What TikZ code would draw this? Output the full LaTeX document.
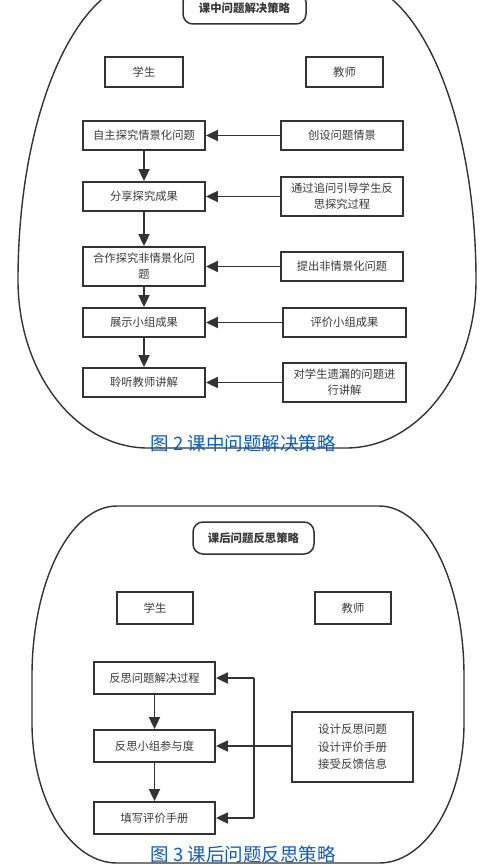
\documentclass[tikz,border=0pt]{standalone}
\usepackage{fontspec}
\setmainfont{Noto Sans CJK SC}
\usetikzlibrary{arrows.meta}
\definecolor{linec}{HTML}{333333}
\definecolor{textc}{HTML}{3A3A3A}
\definecolor{capc}{HTML}{0F5CB8}
\tikzset{
  box/.style={draw=linec, line width=1.8pt, text=textc, font=\fontsize{11.3}{16}\selectfont, align=center, inner sep=0pt},
  arr/.style={draw=linec, line width=1.8pt, -{Triangle[length=12pt,width=11pt]}},
  plainline/.style={draw=linec, line width=1.8pt},
  outer/.style={draw=linec, line width=1.4pt},
  figcap/.style={text=capc, font=\fontsize{18.5}{20}\selectfont, inner sep=0pt},
  ttl/.style={box, line width=1.5pt, rounded corners=10pt, font=\bfseries\fontsize{11.4}{14}\selectfont}
}
\begin{document}
\begin{tikzpicture}[x=1pt,y=-1pt]
\useasboundingbox (0,0) rectangle (499,866);
\fill[white] (0,0) rectangle (499,866);
\clip (0,0) rectangle (499,866);

% ===== Top diagram =====
\draw[outer] (148,-20) .. controls (76,-20) and (18,114) .. (18,280)
  .. controls (18,373) and (76,448) .. (148,448) -- (346,448)
  .. controls (418,448) and (476,373) .. (476,280)
  .. controls (476,114) and (418,-20) .. (346,-20) -- cycle;

\node[ttl, minimum width=123pt, minimum height=32pt] (t1) at (244.5,8) {课中问题解决策略};
\node[box, minimum width=78pt, minimum height=30pt] (s1) at (144,72) {学生};
\node[box, minimum width=77pt, minimum height=30pt] (j1) at (344.5,72) {教师};

\node[box, minimum width=122pt, minimum height=29pt] (a1) at (144,135.5) {自主探究情景化问题};
\node[box, minimum width=122pt, minimum height=29pt] (a2) at (144,196.5) {分享探究成果};
\node[box, minimum width=122pt, minimum height=39pt] (a3) at (144,266.5) {合作探究非情景化问\\题};
\node[box, minimum width=122pt, minimum height=29pt] (a4) at (144,322.5) {展示小组成果};
\node[box, minimum width=122pt, minimum height=29pt] (a5) at (144,382.5) {聆听教师讲解};

\node[box, minimum width=122pt, minimum height=29pt] (b1) at (342,135.5) {创设问题情景};
\node[box, minimum width=122pt, minimum height=39pt] (b2) at (342,196.5) {通过追问引导学生反\\思探究过程};
\node[box, minimum width=122pt, minimum height=29pt] (b3) at (342,266.5) {提出非情景化问题};
\node[box, minimum width=123pt, minimum height=29pt] (b4) at (344.5,322.5) {评价小组成果};
\node[box, minimum width=123pt, minimum height=39pt] (b5) at (344.5,382.5) {对学生遗漏的问题进\\行讲解};

\draw[arr] (a1.south) -- (a2.north);
\draw[arr] (a2.south) -- (a3.north);
\draw[arr] (a3.south) -- (a4.north);
\draw[arr] (a4.south) -- (a5.north);
\draw[arr] (b1.west) -- (a1.east);
\draw[arr] (b2.west) -- (a2.east);
\draw[arr] (b3.west) -- (a3.east);
\draw[arr] (b4.west) -- (a4.east);
\draw[arr] (b5.west) -- (a5.east);

\node[figcap] (c1) at (243,443) {图 2 课中问题解决策略};

% ===== Bottom diagram =====
\draw[outer] (117,506) .. controls (70,506) and (32,582) .. (32,676) -- (32,723)
  .. controls (32,800) and (70,863) .. (117,863) -- (379,863)
  .. controls (426,863) and (464,800) .. (464,723) -- (464,676)
  .. controls (464,582) and (426,506) .. (379,506) -- cycle;

\node[ttl, minimum width=121pt, minimum height=32pt] (t2) at (253.5,538) {课后问题反思策略};
\node[box, minimum width=76pt, minimum height=32pt] (s2) at (155,608) {学生};
\node[box, minimum width=76pt, minimum height=32pt] (j2) at (353,608) {教师};

\node[box, minimum width=121pt, minimum height=32pt] (m1) at (154.5,678) {反思问题解决过程};
\node[box, minimum width=121pt, minimum height=32pt] (m2) at (154.5,746) {反思小组参与度};
\node[box, minimum width=121pt, minimum height=32pt] (m3) at (154.5,818) {填写评价手册};
\node[box, minimum width=121pt, minimum height=70pt, font=\fontsize{11.5}{17.5}\selectfont] (r2) at (352.5,747) {设计反思问题\\设计评价手册\\接受反馈信息};

\coordinate (jt) at (254,678);
\coordinate (jb) at (254,818);
\draw[plainline] (jt) -- (jb);
\draw[arr] (jt) -- (m1.east);
\draw[arr] (jb) -- (m3.east);
\draw[arr] (r2.west |- m2.east) -- (m2.east);
\draw[arr] (m1.south) -- (m2.north);
\draw[arr] (m2.south) -- (m3.north);

\node[figcap] (c2) at (243,854) {图 3 课后问题反思策略};
\end{tikzpicture}
\end{document}
